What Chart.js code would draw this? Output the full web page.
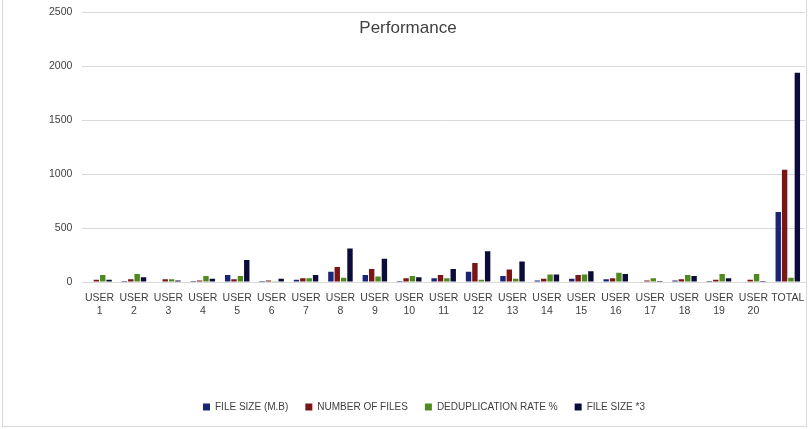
<!DOCTYPE html>
<html>
<head>
<meta charset="utf-8">
<script src="https://cdn.jsdelivr.net/npm/chart.js@4"></script>
<style>
  html, body { margin: 0; padding: 0; background: #fff; }
  #wrap { position: relative; width: 809px; height: 429px; }
  #frame { position: absolute; left: 2px; top: -1px; width: 805px; height: 428px; border: 1px solid #d9d9d9; box-sizing: border-box; pointer-events: none; }
  #title { position: absolute; left: 0; width: 816px; top: 18px; text-align: center; font: 17px "Liberation Sans", sans-serif; color: #404040; }
</style>
</head>
<body>
<div id="wrap">
  <canvas id="chartjs-0" width="809" height="429"></canvas>
  <div id="frame"></div>
  <div id="title">Performance</div>
</div>
<script>
// categories
var users = ["USER 1", "USER 2", "USER 3", "USER 4", "USER 5", "USER 6", "USER 7",
  "USER 8", "USER 9", "USER 10", "USER 11", "USER 12", "USER 13", "USER 14",
  "USER 15", "USER 16", "USER 17", "USER 18", "USER 19", "USER 20", "TOTAL"];

// series values
var fileSize    = [5, 10, 0, 10, 65, 10, 20, 95, 65, 10, 35, 95, 55, 15, 30, 25, 0, 15, 10, 0, 650];
var numFiles    = [20, 25, 25, 15, 25, 15, 35, 140, 120, 35, 65, 175, 115, 30, 65, 35, 15, 25, 20, 20, 1040];
var dedupRate   = [65, 75, 25, 55, 55, 8, 35, 40, 50, 55, 35, 20, 30, 70, 70, 85, 35, 65, 75, 75, 40];
var fileSizeX3  = [20, 45, 15, 30, 205, 30, 65, 310, 215, 45, 120, 285, 190, 70, 100, 75, 10, 55, 35, 10, 1940];

var yTicks = [0, 500, 1000, 1500, 2000, 2500];

var labels = users.map(function (u) {
  var parts = u.split(" ");
  return parts.length > 1 ? parts : u;
});

var font = "'Liberation Sans', sans-serif";

function ds(label, data, color) {
  return {
    label: label,
    data: data,
    backgroundColor: color,
    borderWidth: 0,
    barPercentage: 0.85,
    categoryPercentage: 0.74
  };
}

var ctx0 = document.getElementById("chartjs-0");
var myChart = new Chart(ctx0, {
  type: "bar",
  data: {
    labels: labels,
    datasets: [
      ds("FILE SIZE (M.B)", fileSize, "#1b2577"),
      ds("NUMBER OF FILES", numFiles, "#7b1616"),
      ds("DEDUPLICATION RATE %", dedupRate, "#4f8a1f"),
      ds("FILE SIZE *3", fileSizeX3, "#0c0c3a")
    ]
  },
  options: {
    responsive: false,
    animation: false,
    layout: { padding: { left: 43, right: 4, top: 0, bottom: 7 } },
    plugins: {
      title: { display: false },
      tooltip: { enabled: false },
      legend: {
        position: "bottom",
        labels: {
          boxWidth: 7,
          boxHeight: 7,
          padding: 17,
          color: "#404040",
          font: { family: font, size: 10 }
        }
      }
    },
    scales: {
      x: {
        grid: { display: false },
        border: { display: true, color: "#d9d9d9", width: 1 },
        ticks: {
          color: "#404040",
          font: { family: font, size: 10.5, lineHeight: 1.2 },
          maxRotation: 0,
          autoSkip: false,
          padding: 2
        },
        afterFit: function (scale) { scale.height = 103; }
      },
      y: {
        min: 0,
        max: 2500,
        afterBuildTicks: function (scale) {
          scale.ticks = yTicks.map(function (v) { return { value: v }; });
        },
        grid: { color: "#d9d9d9", drawTicks: true, tickLength: 4, tickColor: "rgba(0,0,0,0)" },
        border: { display: false },
        ticks: {
          color: "#404040",
          font: { family: font, size: 10.5 },
          padding: 6,
          callback: function (v) { return String(v); }
        }
      }
    }
  }
});
</script>
</body>
</html>
